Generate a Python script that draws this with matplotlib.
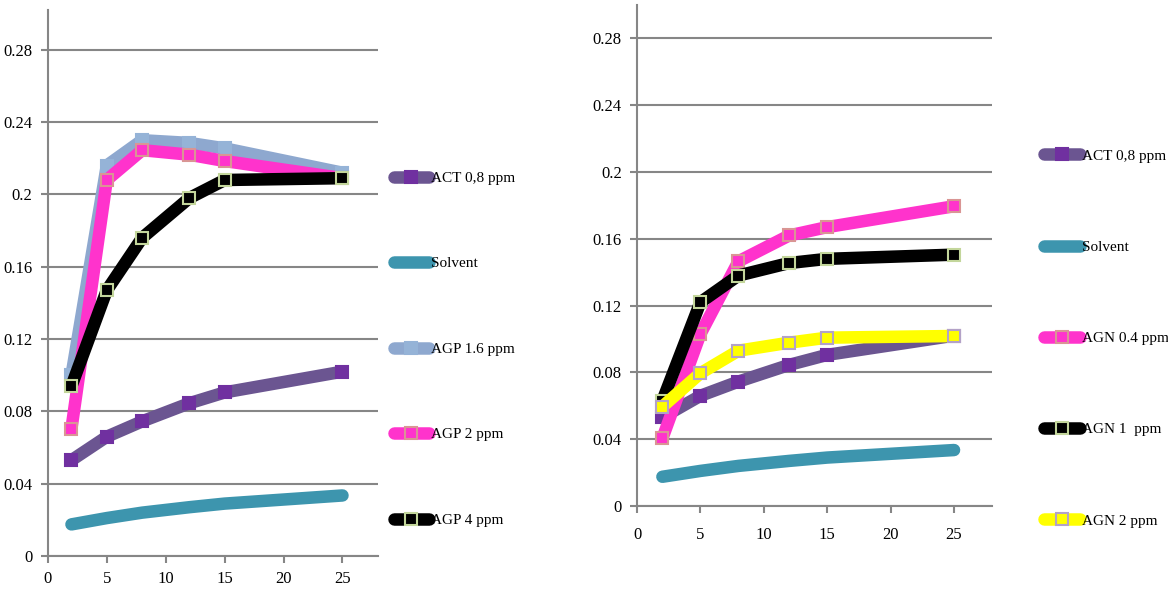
import matplotlib
matplotlib.use('Agg')
import matplotlib.pyplot as plt

plt.rcParams['font.family'] = ['Liberation Serif', 'DejaVu Serif']

# time points
x = [2, 5, 8, 12, 15, 25]

# left panel
act = [0.053, 0.066, 0.0745, 0.0845, 0.0905, 0.102]
solvent = [0.0175, 0.021, 0.0240, 0.0270, 0.0290, 0.0335]
agp16 = [0.100, 0.216, 0.230, 0.2285, 0.2255, 0.212]
agp2 = [0.0705, 0.208, 0.2245, 0.222, 0.2185, 0.209]
agp4 = [0.094, 0.147, 0.176, 0.198, 0.208, 0.209]

# right panel
agn04 = [0.0405, 0.103, 0.1465, 0.162, 0.167, 0.1795]
agn1 = [0.063, 0.122, 0.138, 0.1455, 0.148, 0.1505]
agn2 = [0.0595, 0.0795, 0.093, 0.0978, 0.1008, 0.1018]

yticks = [0, 0.04, 0.08, 0.12, 0.16, 0.2, 0.24, 0.28]
ylabels = ['0', '0.04', '0.08', '0.12', '0.16', '0.2', '0.24', '0.28']
xticks = [0, 5, 10, 15, 20, 25]

left_series = [
    ('ACT 0,8 ppm', act, '#6B5591', '#7030A0', '#7030A0'),
    ('Solvent', solvent, '#3D95AE', None, None),
    ('AGP 1.6 ppm', agp16, '#8EA8CF', '#95B3D7', '#95B3D7'),
    ('AGP 2 ppm', agp2, '#FF33CC', '#FF33CC', '#D99594'),
    ('AGP 4 ppm', agp4, '#000000', '#000000', '#C3D69B'),
]
right_series = [
    ('ACT 0,8 ppm', act, '#6B5591', '#7030A0', '#7030A0'),
    ('Solvent', solvent, '#3D95AE', None, None),
    ('AGN 0.4 ppm', agn04, '#FF33CC', '#FF33CC', '#D99594'),
    ('AGN 1  ppm', agn1, '#000000', '#000000', '#C3D69B'),
    ('AGN 2 ppm', agn2, '#FFFF00', '#FFFF00', '#B3A2C7'),
]

fig = plt.figure(figsize=(11.68, 5.95), dpi=100)
ax1 = fig.add_axes([0.041, 0.0655, 0.2825, 0.9176])
ax2 = fig.add_axes([0.5454, 0.1496, 0.304, 0.842])


def draw(ax, series, ytop, legend_anchor, spacing, xpad):
    for name, y, lc, mfc, mec in series:
        if mfc is None:
            ax.plot(x, y, color=lc, lw=9, solid_capstyle='round',
                    solid_joinstyle='round', label=name)
        else:
            ax.plot(x, y, color=lc, lw=9, solid_capstyle='round',
                    solid_joinstyle='round', marker='s', ms=9,
                    mfc=mfc, mec=mec, mew=1.5, label=name)
    ax.set_xlim(0, 28)
    ax.set_ylim(0, ytop)
    ax.set_yticks(yticks)
    ax.set_yticklabels(ylabels)
    ax.set_xticks(xticks)
    ax.yaxis.grid(True, color='#868686', lw=1.5)
    ax.set_axisbelow(True)
    for s in ['top', 'right']:
        ax.spines[s].set_visible(False)
    for s in ['left', 'bottom']:
        ax.spines[s].set_color('#868686')
        ax.spines[s].set_linewidth(1.5)
    ax.tick_params(direction='out', length=5, width=1.5, color='#868686',
                   labelsize=12, pad=6)
    ax.tick_params(axis='x', pad=xpad)
    ax.legend(loc='upper left', bbox_to_anchor=legend_anchor, frameon=False,
              fontsize=11, handlelength=2.3, handletextpad=0.15,
              labelspacing=spacing, borderaxespad=0)


draw(ax1, left_series, 0.302, (1.03, 0.716), 4.7, 6)
draw(ax2, right_series, 0.30, (1.13, 0.725), 5.08, 10)

fig.savefig('out.png', dpi=100)
